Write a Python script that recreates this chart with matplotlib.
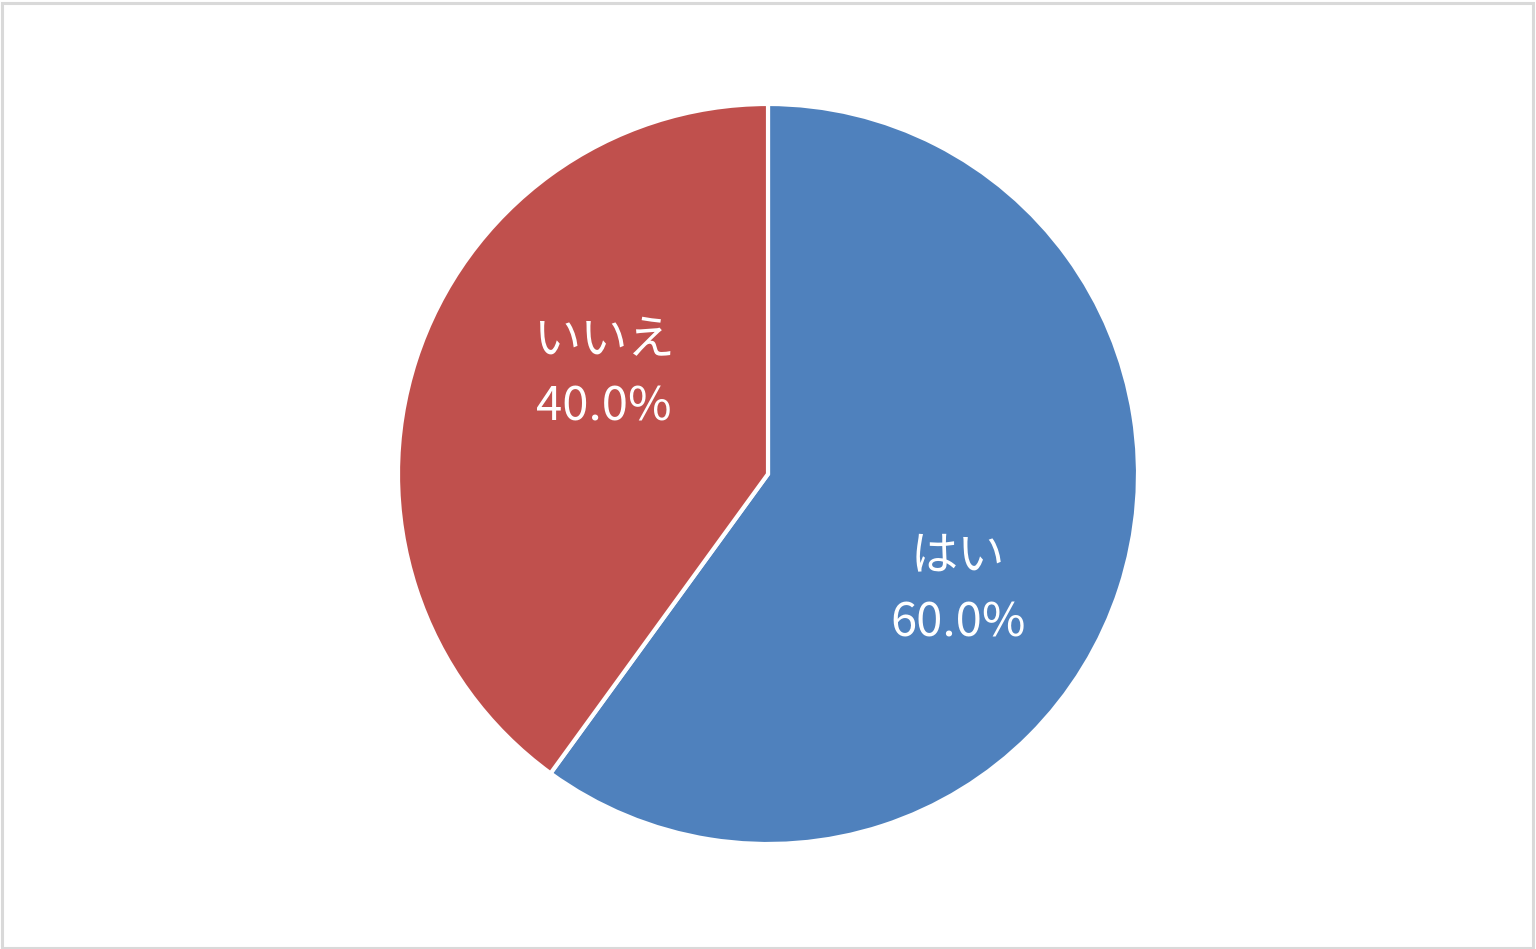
import matplotlib.pyplot as plt
from matplotlib.patches import Rectangle

plt.rcParams['font.family'] = ['Noto Sans CJK JP', 'DejaVu Sans']

# Data
categories = ["はい", "いいえ"]
values = [60.0, 40.0]
colors = ["#4F81BD", "#C0504D"]

# label centres in pixel coords (Excel "best fit" placement)
label_pos = [(958, 590), (604, 374)]

W, H = 1536, 949
fig = plt.figure(figsize=(W / 100, H / 100), dpi=100)
fig.patch.set_facecolor("white")

ax = fig.add_axes([0, 0, 1, 1])
ax.pie(values, colors=colors, startangle=90, counterclock=False,
       center=(768, H - 474), radius=370,
       wedgeprops={"edgecolor": "white", "linewidth": 3})
ax.set_xlim(0, W)
ax.set_ylim(0, H)
ax.set_aspect("equal")
ax.axis("off")

total = sum(values)
for cat, v, (px, py) in zip(categories, values, label_pos):
    ax.text(px, H - py, "{}\n{:.1f}%".format(cat, v / total * 100),
            ha="center", va="center", color="white", fontsize=34,
            linespacing=1.5)

# outer chart border
fig.patches.append(Rectangle((0.001, 0.0015), 0.997, 0.995, transform=fig.transFigure,
                             fill=False, edgecolor="#D9D9D9", linewidth=2.2))

fig.savefig("out.png", dpi=100)
